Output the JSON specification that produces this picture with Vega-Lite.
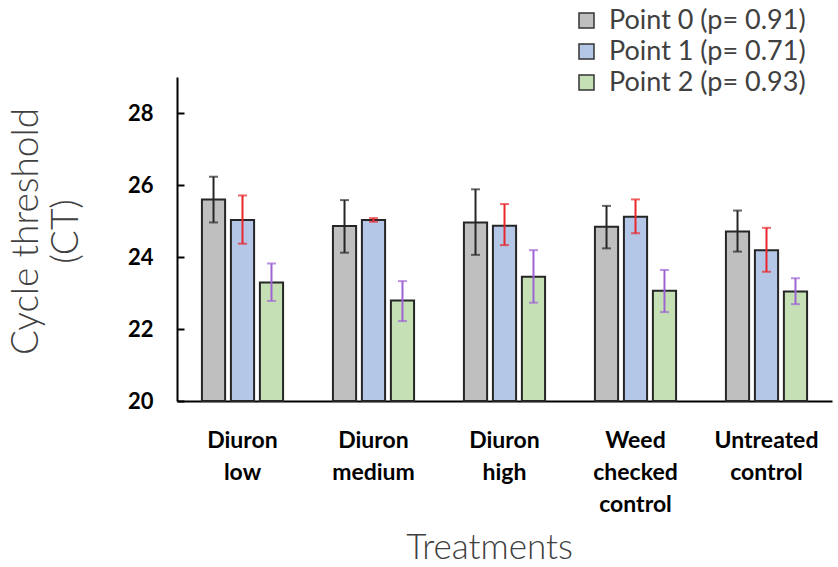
{
  "$schema": "https://vega.github.io/schema/vega-lite/v6.json",
  "width": 655,
  "height": 324,
  "autosize": {"type": "none"},
  "padding": {"left": 177, "top": 77, "right": 6, "bottom": 166},
  "background": "white",
  "config": {"view": {"stroke": null}, "font": "Lato"},
  "data": {
    "values": [
      {"treatment": "Diuron low", "series": "Point 0 (p= 0.91)", "mean": 25.60, "lo": 24.96, "hi": 26.23},
      {"treatment": "Diuron low", "series": "Point 1 (p= 0.71)", "mean": 25.03, "lo": 24.37, "hi": 25.71},
      {"treatment": "Diuron low", "series": "Point 2 (p= 0.93)", "mean": 23.29, "lo": 22.78, "hi": 23.82},
      {"treatment": "Diuron medium", "series": "Point 0 (p= 0.91)", "mean": 24.86, "lo": 24.12, "hi": 25.58},
      {"treatment": "Diuron medium", "series": "Point 1 (p= 0.71)", "mean": 25.03, "lo": 24.98, "hi": 25.08},
      {"treatment": "Diuron medium", "series": "Point 2 (p= 0.93)", "mean": 22.79, "lo": 22.22, "hi": 23.33},
      {"treatment": "Diuron high", "series": "Point 0 (p= 0.91)", "mean": 24.96, "lo": 24.06, "hi": 25.88},
      {"treatment": "Diuron high", "series": "Point 1 (p= 0.71)", "mean": 24.87, "lo": 24.33, "hi": 25.47},
      {"treatment": "Diuron high", "series": "Point 2 (p= 0.93)", "mean": 23.45, "lo": 22.73, "hi": 24.19},
      {"treatment": "Weed checked control", "series": "Point 0 (p= 0.91)", "mean": 24.84, "lo": 24.24, "hi": 25.42},
      {"treatment": "Weed checked control", "series": "Point 1 (p= 0.71)", "mean": 25.12, "lo": 24.66, "hi": 25.60},
      {"treatment": "Weed checked control", "series": "Point 2 (p= 0.93)", "mean": 23.06, "lo": 22.47, "hi": 23.64},
      {"treatment": "Untreated control", "series": "Point 0 (p= 0.91)", "mean": 24.71, "lo": 24.15, "hi": 25.29},
      {"treatment": "Untreated control", "series": "Point 1 (p= 0.71)", "mean": 24.19, "lo": 23.59, "hi": 24.81},
      {"treatment": "Untreated control", "series": "Point 2 (p= 0.93)", "mean": 23.04, "lo": 22.69, "hi": 23.41}
    ]
  },
  "encoding": {
    "x": {
      "field": "treatment",
      "type": "nominal",
      "sort": ["Diuron low", "Diuron medium", "Diuron high", "Weed checked control", "Untreated control"],
      "scale": {"paddingInner": 0, "paddingOuter": 0},
      "axis": {
        "labelExpr": "split(datum.label, ' ')",
        "labelAngle": 0,
        "labelFont": "Lato",
        "labelFontSize": 23,
        "labelFontWeight": "bold",
        "labelColor": "#000000",
        "labelLineHeight": 32,
        "labelPadding": 28,
        "ticks": false,
        "tickSize": 0,
        "domainColor": "#000000",
        "domainWidth": 2,
        "title": "Treatments",
        "titleFont": "Lato",
        "titleFontSize": 35,
        "titleFontWeight": 300,
        "titleColor": "#404040",
        "titleX": 312,
        "titleY": 157,
        "titleAlign": "center",
        "titleBaseline": "alphabetic"
      }
    },
    "xOffset": {
      "field": "series",
      "type": "nominal",
      "sort": ["Point 0 (p= 0.91)", "Point 1 (p= 0.71)", "Point 2 (p= 0.93)"],
      "scale": {"paddingInner": 0.2, "paddingOuter": 0.86}
    }
  },
  "layer": [
    {
      "mark": {"type": "bar", "stroke": "#262626", "strokeWidth": 2},
      "encoding": {
        "y": {
          "field": "mean",
          "type": "quantitative",
          "scale": {"domain": [20, 29], "nice": false, "zero": false},
          "axis": {
            "values": [20, 22, 24, 26, 28],
            "grid": false,
            "domainColor": "#000000",
            "domainWidth": 2,
            "tickColor": "#000000",
            "tickWidth": 2,
            "tickSize": -7,
            "labelFont": "Lato",
            "labelFontSize": 22,
            "labelFontWeight": "bold",
            "labelColor": "#000000",
            "labelPadding": 31,
            "title": ["Cycle threshold", "(CT)"],
            "titleFont": "Lato",
            "titleFontSize": 37,
            "titleFontWeight": 300,
            "titleColor": "#404040",
            "titleAngle": -90,
            "titleX": -140,
            "titleY": 154,
            "titleAlign": "center",
            "titleBaseline": "alphabetic",
            "titleLineHeight": 40
          }
        },
        "y2": {"datum": 20},
        "color": {
          "field": "series",
          "type": "nominal",
          "sort": ["Point 0 (p= 0.91)", "Point 1 (p= 0.71)", "Point 2 (p= 0.93)"],
          "scale": {"range": ["#bfbfbf", "#b4c7e7", "#c5e0b4"]},
          "legend": {
            "title": null,
            "orient": "none",
            "legendX": 396,
            "legendY": -70,
            "symbolType": "square",
            "symbolSize": 225,
            "symbolStrokeColor": "#333333",
            "symbolStrokeWidth": 1.5,
            "symbolOpacity": 1,
            "labelFont": "Lato",
            "labelFontSize": 27,
            "labelColor": "#404040",
            "labelOffset": 9,
            "rowPadding": 3,
            "labelLimit": 400
          }
        }
      }
    },
    {
      "mark": {"type": "rule", "strokeWidth": 2},
      "encoding": {
        "y": {"field": "lo", "type": "quantitative"},
        "y2": {"field": "hi"},
        "color": {
          "field": "series",
          "type": "nominal",
          "sort": ["Point 0 (p= 0.91)", "Point 1 (p= 0.71)", "Point 2 (p= 0.93)"],
          "scale": {"range": ["#262626", "#e8262c", "#9e63d3"]},
          "legend": null
        }
      }
    },
    {
      "mark": {"type": "tick", "thickness": 2, "size": 9},
      "encoding": {
        "y": {"field": "lo", "type": "quantitative"},
        "color": {
          "field": "series",
          "type": "nominal",
          "sort": ["Point 0 (p= 0.91)", "Point 1 (p= 0.71)", "Point 2 (p= 0.93)"],
          "scale": {"range": ["#262626", "#e8262c", "#9e63d3"]},
          "legend": null
        }
      }
    },
    {
      "mark": {"type": "tick", "thickness": 2, "size": 9},
      "encoding": {
        "y": {"field": "hi", "type": "quantitative"},
        "color": {
          "field": "series",
          "type": "nominal",
          "sort": ["Point 0 (p= 0.91)", "Point 1 (p= 0.71)", "Point 2 (p= 0.93)"],
          "scale": {"range": ["#262626", "#e8262c", "#9e63d3"]},
          "legend": null
        }
      }
    }
  ],
  "resolve": {"scale": {"color": "independent"}}
}
